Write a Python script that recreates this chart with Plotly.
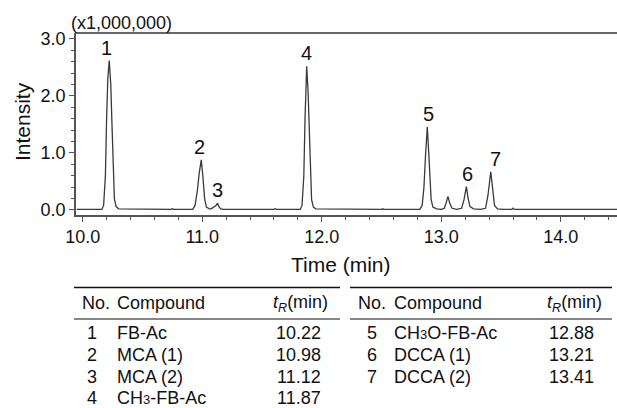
import plotly.graph_objects as go

# ---------------- data ----------------
time_min = [9.95, 10.16, 10.175, 10.19, 10.20, 10.21, 10.222, 10.235, 10.245, 10.255, 10.265, 10.28, 10.30,
            10.74, 10.75, 10.76,
            10.92, 10.94, 10.96, 10.975, 10.992, 11.005, 11.02, 11.035, 11.06, 11.075, 11.10, 11.115, 11.128,
            11.14, 11.155, 11.18,
            11.60, 11.61, 11.62,
            11.82, 11.835, 11.85, 11.86, 11.867, 11.874, 11.885, 11.895, 11.905, 11.915, 11.93, 11.95,
            12.50, 12.51, 12.52,
            12.82, 12.84, 12.855, 12.868, 12.883, 12.895, 12.905, 12.915, 12.93, 12.96,
            13.00, 13.025, 13.04, 13.056, 13.07, 13.09,
            13.13, 13.17, 13.19, 13.21, 13.225, 13.24, 13.27,
            13.33, 13.37, 13.39, 13.414, 13.43, 13.445, 13.47, 13.52,
            13.59, 13.60, 13.61, 13.91, 13.92, 13.93, 14.47]
intensity = [0.01, 0.01, 0.08, 0.6, 1.6, 2.3, 2.62, 2.2, 1.5, 0.7, 0.2, 0.06, 0.02,
             0.01, 0.025, 0.01,
             0.01, 0.08, 0.35, 0.65, 0.88, 0.6, 0.2, 0.05, 0.02, 0.02, 0.05, 0.08, 0.12,
             0.06, 0.02, 0.01,
             0.01, 0.025, 0.01,
             0.01, 0.08, 0.6, 1.6, 2.2, 2.52, 2.1, 1.4, 0.6, 0.18, 0.05, 0.02,
             0.01, 0.02, 0.01,
             0.01, 0.08, 0.4, 0.95, 1.46, 1.0, 0.5, 0.18, 0.05, 0.02,
             0.01, 0.03, 0.12, 0.24, 0.12, 0.03,
             0.01, 0.03, 0.18, 0.41, 0.2, 0.06, 0.02,
             0.01, 0.03, 0.25, 0.67, 0.3, 0.08, 0.02, 0.01,
             0.01, 0.03, 0.01, 0.01, 0.02, 0.01, 0.01]

peak_no = ["1", "2", "3", "4", "5", "6", "7"]
compounds = ["FB-Ac", "MCA (1)", "MCA (2)", "CH<span style=\"font-size:13px\">3</span>-FB-Ac",
             "CH<span style=\"font-size:13px\">3</span>O-FB-Ac", "DCCA (1)", "DCCA (2)"]
t_r = [10.22, 10.98, 11.12, 11.87, 12.88, 13.21, 13.41]

x_ticks = [10.0, 11.0, 12.0, 13.0, 14.0]
y_ticks = [0.0, 1.0, 2.0, 3.0]

# ---------------- styling / layout ----------------
FONT = "Liberation Sans, Arial, Helvetica, sans-serif"
W, H = 617, 408
L, T, R, B = 76, 33, 617, 215  # plot area in pixels


def px(x):
    return (x - L) / (R - L)


def py(y):
    return (B - y) / (B - T)


fig = go.Figure()
fig.add_trace(go.Scatter(x=time_min, y=intensity, mode="lines",
                         line=dict(color="#3a3a3a", width=1.3),
                         hoverinfo="skip", showlegend=False))

annotations = []
shapes = []

# top frame line
shapes.append(dict(type="line", xref="paper", yref="paper", x0=0, x1=1, y0=1, y1=1,
                   line=dict(color="#666", width=2)))

# peak labels
label_xshift = [-2, 0, 1, 0, 2, 1, 5]
for i, lab in enumerate(peak_no):
    near = [v for t, v in zip(time_min, intensity) if abs(t - t_r[i]) <= 0.025]
    annotations.append(dict(x=t_r[i], y=max(near), xref="x", yref="y", text=lab,
                            showarrow=False, xanchor="center", yanchor="middle",
                            xshift=label_xshift[i], yshift=13,
                            font=dict(family=FONT, size=20, color="#111")))

# axis texts
annotations.append(dict(x=px(69), y=py(23), xref="paper", yref="paper", text="(x1,000,000)",
                        showarrow=False, xanchor="left", yanchor="middle",
                        font=dict(family=FONT, size=18, color="#111")))
annotations.append(dict(x=px(22), y=py(122), xref="paper", yref="paper", text="Intensity",
                        showarrow=False, xanchor="center", yanchor="middle", textangle=-90,
                        font=dict(family=FONT, size=21, color="#111")))
annotations.append(dict(x=px(341), y=py(264), xref="paper", yref="paper", text="Time (min)",
                        showarrow=False, xanchor="center", yanchor="middle",
                        font=dict(family=FONT, size=21, color="#111")))

# table
tables = [
    dict(rows=[0, 1, 2, 3], x0=74, x1=340, no_x=92, no_hdr=80, comp_x=115, tr_hdr=271, tr_right=323),
    dict(rows=[4, 5, 6], x0=350, x1=612, no_x=372, no_hdr=356, comp_x=392, tr_hdr=545, tr_right=596),
]
hdr_y = 303
row_y = [333.3, 355, 376.7, 397.5]
tfont = dict(family=FONT, size=18, color="#111")
for tb in tables:
    shapes.append(dict(type="line", xref="paper", yref="paper", x0=px(tb["x0"]), x1=px(tb["x1"]),
                       y0=py(287.5), y1=py(287.5), line=dict(color="#111", width=1.6)))
    shapes.append(dict(type="line", xref="paper", yref="paper", x0=px(tb["x0"]), x1=px(tb["x1"]),
                       y0=py(319), y1=py(319), line=dict(color="#111", width=1.1)))
    annotations.append(dict(x=px(tb["no_hdr"]), y=py(hdr_y), xref="paper", yref="paper",
                            text="No.", showarrow=False, xanchor="left", yanchor="middle", font=tfont))
    annotations.append(dict(x=px(tb["comp_x"]), y=py(hdr_y), xref="paper", yref="paper",
                            text="Compound", showarrow=False, xanchor="left", yanchor="middle", font=tfont))
    annotations.append(dict(x=px(tb["tr_hdr"]), y=py(hdr_y), xref="paper", yref="paper",
                            text="<i>t<sub>R</sub></i>(min)", showarrow=False, xanchor="left",
                            yanchor="middle", font=tfont))
    for k, i in enumerate(tb["rows"]):
        annotations.append(dict(x=px(tb["no_x"]), y=py(row_y[k]), xref="paper", yref="paper",
                                text=peak_no[i], showarrow=False, xanchor="center", yanchor="middle",
                                font=tfont))
        annotations.append(dict(x=px(tb["comp_x"]), y=py(row_y[k]), xref="paper", yref="paper",
                                text=compounds[i], showarrow=False, xanchor="left", yanchor="middle",
                                font=tfont))
        annotations.append(dict(x=px(tb["tr_right"]), y=py(row_y[k]), xref="paper", yref="paper",
                                text=f"{t_r[i]:.2f}", showarrow=False, xanchor="right", yanchor="middle",
                                font=tfont))

axis_common = dict(showline=True, linecolor="#555", linewidth=1.5, ticks="outside", ticklen=5,
                   tickwidth=1.2, tickcolor="#555", showgrid=False, zeroline=False,
                   tickfont=dict(family=FONT, size=18, color="#111"), tickformat=".1f")

fig.update_layout(
    width=W, height=H,
    margin=dict(l=L, r=W - R, t=T, b=H - B, pad=0),
    plot_bgcolor="white", paper_bgcolor="white",
    xaxis=dict(range=[9.944, 14.47], tickvals=x_ticks,
               minor=dict(dtick=0.2, tick0=10.0, ticks="outside", ticklen=3, tickcolor="#555",
                          tickwidth=1, showgrid=False),
               **axis_common),
    yaxis=dict(range=[-0.088, 3.105], tickvals=y_ticks,
               minor=dict(dtick=0.2, tick0=0.0, ticks="outside", ticklen=3, tickcolor="#555",
                          tickwidth=1, showgrid=False),
               **axis_common),
    annotations=annotations,
    shapes=shapes,
)

fig.write_html(
    "out.html",
    config={"displayModeBar": False},
    post_script="document.body.style.margin='0';document.body.style.overflow='hidden';",
)
